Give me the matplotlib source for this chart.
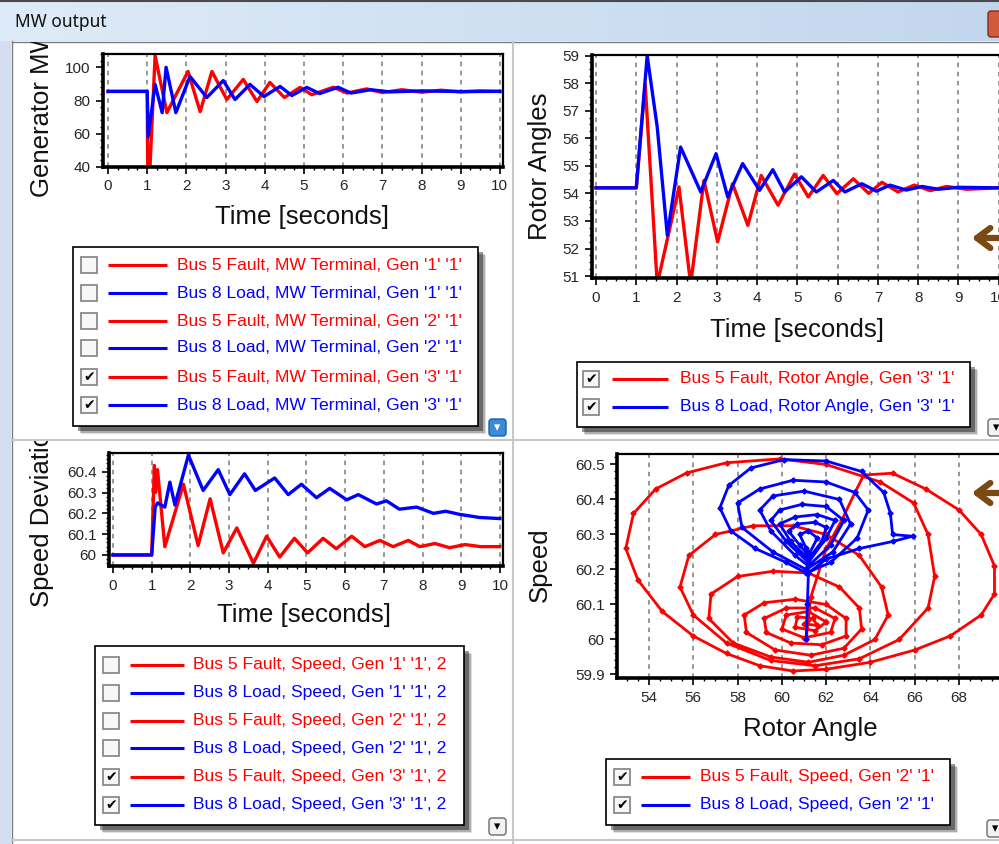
import numpy as np
import matplotlib.pyplot as plt
from matplotlib.patches import Rectangle, FancyBboxPatch
from matplotlib.ticker import MultipleLocator, AutoMinorLocator, FuncFormatter
from matplotlib.transforms import Bbox, TransformedBbox

W, H = 999, 844

# ---- generator MW output (Gen '3')
mw_t_red = [0, 1.0, 1.01, 1.07, 1.2, 1.5, 2.04, 2.35, 2.65, 3.03, 3.45, 3.8, 4.13,
            4.5, 4.9, 5.2, 5.75, 6.1, 6.6, 7.0, 7.5, 8.0, 8.5, 9.0, 9.5, 10]
mw_red = [85.5, 85.5, 40, 40, 107, 72.7, 97.5, 73.3, 97.5, 80.6, 92.7, 79.4, 90.9,
          81.8, 87.9, 83.5, 88, 84.5, 87, 84.8, 86.5, 85, 86.2, 85.2, 85.8, 85.5]
mw_t_blue = [0, 1.0, 1.02, 1.2, 1.38, 1.48, 1.73, 2.09, 2.52, 2.94, 3.24, 3.62, 3.98,
             4.39, 4.69, 5.07, 5.4, 5.87, 6.2, 6.7, 7.2, 8, 9, 10]
mw_blue = [85.5, 85.5, 58, 89.7, 72.7, 100, 72.7, 94.5, 81.8, 92, 80.6, 89.7, 82.4,
           88.5, 83, 87.9, 84.2, 88, 84.5, 86.5, 85.2, 85.8, 85.4, 85.5]

# ---- rotor angles (Gen '3')
ra_t_red = [0, 1.0, 1.22, 1.52, 2.06, 2.35, 2.68, 3.02, 3.39, 3.77, 4.1, 4.52, 4.93,
            5.27, 5.64, 5.98, 6.39, 6.77, 7.1, 7.5, 7.9, 8.3, 8.7, 9.2, 10]
ra_red = [54.2, 54.2, 57.97, 50.7, 54.23, 50.7, 54.47, 52.24, 54.35, 52.84, 54.65, 53.57, 54.7,
          53.87, 54.65, 53.99, 54.53, 54.0, 54.4, 54.05, 54.3, 54.1, 54.25, 54.15, 54.2]
ra_t_blue = [0, 1.0, 1.27, 1.52, 1.77, 2.1, 2.6, 2.98, 3.27, 3.64, 4.06, 4.39, 4.68,
             5.1, 5.47, 5.89, 6.18, 6.6, 6.96, 7.3, 7.7, 8.1, 8.5, 9, 10]
ra_blue = [54.2, 54.2, 59.0, 56.4, 52.48, 55.68, 54.05, 55.44, 53.87, 55.08, 54.11, 54.86, 54.05,
           54.6, 54.05, 54.47, 54.05, 54.35, 54.08, 54.3, 54.12, 54.25, 54.15, 54.22, 54.2]

# ---- speed (Gen '3')
sp_t_red = [0, 1.0, 1.07, 1.1, 1.15, 1.34, 1.82, 2.2, 2.51, 2.85, 3.2, 3.63, 3.97, 4.31, 4.69,
            5.03, 5.43, 5.77, 6.17, 6.51, 6.9, 7.24, 7.63, 7.93, 8.32, 8.7, 9.1, 9.5, 10]
sp_red = [60.0, 60.0, 60.43, 60.3, 60.41, 60.04, 60.34, 60.045, 60.27, 60.01, 60.13, 59.96, 60.09,
          59.99, 60.08, 60.01, 60.08, 60.03, 60.09, 60.04, 60.07, 60.04, 60.07, 60.04, 60.055,
          60.035, 60.05, 60.04, 60.04]
sp_t_blue = [0, 1.0, 1.09, 1.15, 1.34, 1.47, 1.6, 1.95, 2.33, 2.72, 3.02, 3.4, 3.68, 4.18, 4.53,
             4.87, 5.26, 5.6, 6.04, 6.34, 6.81, 7.07, 7.4, 7.85, 8.28, 8.6, 8.96, 9.48, 10]
sp_blue = [60.0, 60.0, 60.23, 60.25, 60.23, 60.35, 60.24, 60.48, 60.31, 60.41, 60.29, 60.39, 60.31,
           60.37, 60.29, 60.34, 60.275, 60.32, 60.265, 60.29, 60.245, 60.26, 60.22, 60.23, 60.2,
           60.21, 60.195, 60.18, 60.175]

# ---- speed vs rotor angle (Gen '2')
ph_ang_red = [61.1, 61.3, 62.0, 62.7, 63.3, 63.7, 65.0, 66.5, 68.0, 69.0, 69.6, 69.6, 69.0, 67.6,
              66.0, 64.0, 62.0, 60.5, 59.0, 57.5, 56.0, 54.6, 53.5, 52.95, 53.3, 54.3, 55.7, 57.5,
              59.9, 62.0, 64.45, 65.95, 66.6, 66.9, 66.6, 65.3, 63.5, 61.5, 59.5, 57.5, 56.0, 55.4,
              55.8, 57.0, 58.7, 60.5, 62.0, 63.5, 64.5, 64.8, 64.2, 62.8, 61.2, 59.5, 57.8, 56.7,
              56.8, 58.0, 59.6, 61.2, 62.6, 63.5, 63.6, 62.8, 61.3, 59.7, 58.4, 58.3, 59.2, 60.6,
              62.0, 62.9, 62.9, 61.8, 60.4, 59.3, 59.2, 60.2, 61.5, 62.4, 62.2, 61.0, 60.0, 60.2,
              61.2, 62.0, 61.5, 60.6, 60.7, 61.4, 61.6, 61.0, 61.2]
ph_spd_red = [60.0, 60.12, 60.26, 60.34, 60.42, 60.47, 60.475, 60.43, 60.37, 60.30, 60.21, 60.13,
              60.07, 60.01, 59.97, 59.935, 59.915, 59.91, 59.925, 59.96, 60.01, 60.08, 60.17,
              60.26, 60.36, 60.43, 60.476, 60.505, 60.516, 60.5, 60.45, 60.39, 60.3, 60.18,
              60.09, 60.0, 59.945, 59.925, 59.94, 59.99, 60.07, 60.15, 60.24, 60.3, 60.325,
              60.325, 60.3, 60.24, 60.15, 60.07, 60.0, 59.955, 59.935, 59.95, 59.99, 60.06,
              60.13, 60.18, 60.195, 60.19, 60.15, 60.09, 60.03, 59.975, 59.955, 59.97, 60.02,
              60.07, 60.105, 60.115, 60.1, 60.06, 60.01, 59.985, 59.99, 60.02, 60.06, 60.09,
              60.09, 60.06, 60.02, 60.005, 60.03, 60.07, 60.08, 60.05, 60.025, 60.035, 60.065,
              60.06, 60.04, 60.045, 60.055]
ph_ang_blue = [61.1, 61.15, 61.2, 62.0, 63.5, 65.0, 65.9, 65.0, 64.9, 64.6, 63.6, 62.0, 60.1, 58.6,
               57.6, 57.2, 57.7, 58.8, 60.2, 61.1, 62.2, 63.4, 63.9, 63.3, 62.0, 60.5, 59.0, 58.0,
               58.2, 59.6, 61.1, 62.3, 63.1, 62.6, 61.0, 59.6, 59.0, 59.5, 60.6, 61.2, 62.2, 62.8,
               62.0, 60.9, 59.9, 59.5, 60.2, 61.2, 62.0, 62.4, 61.6, 60.6, 59.9, 60.4, 61.2, 61.8,
               62.0, 61.5, 60.7, 60.3, 60.8, 61.2, 61.6, 61.2, 60.8, 61.1, 61.2]
ph_spd_blue = [60.0, 60.1, 60.19, 60.23, 60.26, 60.28, 60.295, 60.30, 60.36, 60.42, 60.48, 60.51,
               60.514, 60.49, 60.44, 60.376, 60.31, 60.26, 60.22, 60.19, 60.22, 60.29, 60.37,
               60.42, 60.45, 60.455, 60.43, 60.39, 60.32, 60.25, 60.2, 60.25, 60.33, 60.40,
               60.424, 60.41, 60.37, 60.31, 60.24, 60.21, 60.27, 60.34, 60.38, 60.386, 60.37,
               60.34, 60.28, 60.22, 60.29, 60.34, 60.357, 60.35, 60.33, 60.28, 60.23, 60.28,
               60.32, 60.335, 60.33, 60.31, 60.27, 60.24, 60.29, 60.31, 60.3, 60.26, 60.25]
ph_xticks = [54, 56, 58, 60, 62, 64, 66, 68]

# ---- legend entries
mw_labels = ["Bus 5 Fault, MW Terminal, Gen '1' '1'", "Bus 8 Load, MW Terminal, Gen '1' '1'",
             "Bus 5 Fault, MW Terminal, Gen '2' '1'", "Bus 8 Load, MW Terminal, Gen '2' '1'",
             "Bus 5 Fault, MW Terminal, Gen '3' '1'", "Bus 8 Load, MW Terminal, Gen '3' '1'"]
ra_labels = ["Bus 5 Fault, Rotor Angle, Gen '3' '1'", "Bus 8 Load, Rotor Angle, Gen '3' '1'"]
sp_labels = ["Bus 5 Fault, Speed, Gen '1' '1', 2", "Bus 8 Load, Speed, Gen '1' '1', 2",
             "Bus 5 Fault, Speed, Gen '2' '1', 2", "Bus 8 Load, Speed, Gen '2' '1', 2",
             "Bus 5 Fault, Speed, Gen '3' '1', 2", "Bus 8 Load, Speed, Gen '3' '1', 2"]
ph_labels = ["Bus 5 Fault, Speed, Gen '2' '1'", "Bus 8 Load, Speed, Gen '2' '1'"]
six_checked = [False, False, False, False, True, True]

RED = '#ff0000'
BLUE = '#0000ff'
six_colors = [RED, BLUE] * 3

plt.rcParams['font.family'] = ['Liberation Sans', 'DejaVu Sans']

fig = plt.figure(figsize=(W / 100, H / 100), dpi=100)
fig.patch.set_facecolor('white')


def px_rect(x0, y0, x1, y1):
    return [x0 / W, 1 - y1 / H, (x1 - x0) / W, (y1 - y0) / H]


bg = fig.add_axes([0, 0, 1, 1], zorder=0)
bg.axis('off')

# window chrome
grad = np.linspace(0, 1, 200)[None, :, None]
c0 = np.array([0.87, 0.92, 0.97])
c1 = np.array([0.76, 0.84, 0.93])
bg.imshow(c0 + (c1 - c0) * grad, extent=(0, W, 41, 1), aspect='auto', zorder=0)
bg.plot([0, W], [1, 1], color='#4a4a4a', lw=1.5)
bg.add_patch(Rectangle((0, 41), 11, H - 41, fc='#d3dff0', lw=0))
bg.plot([11.5, 11.5], [41, H], color='#7d7d7d', lw=1)
bg.plot([11.5, W], [41.5, 41.5], color='#7d7d7d', lw=1)
bg.plot([513, 513], [42, H], color='#c8c8c8', lw=1.5)
bg.plot([12, W], [440, 440], color='#c8c8c8', lw=1.5)
bg.plot([12, W], [840, 840], color='#c8c8c8', lw=1.5)
bg.text(15, 22, 'MW output', fontsize=12.5, va='center', ha='left', color='#111111',
        family=['Noto Sans', 'DejaVu Sans'])
bg.add_patch(FancyBboxPatch((988, 11), 16, 26, boxstyle='round,pad=0,rounding_size=3',
                            fc='#cf5a3c', ec='#8a2a1a', lw=1))


def clipped_label(x, y, text, panel, **kw):
    t = bg.text(x, y, text, fontsize=18.5, color='#111111', clip_on=True, **kw)
    x0, y0, x1, y1 = panel
    t.set_clip_box(TransformedBbox(Bbox.from_extents(x0 / W, 1 - y1 / H, x1 / W, 1 - y0 / H),
                                   fig.transFigure))
    return t


fmt = FuncFormatter(lambda v, p: f'{round(v, 3):g}')


def style_axes(ax, xmaj, ymaj, xminor=4, yminor=5):
    ax.set_facecolor('white')
    for s in ax.spines.values():
        s.set_linewidth(1.6)
    ax.spines['left'].set_linewidth(2.6)
    ax.spines['bottom'].set_linewidth(2.6)
    ax.xaxis.set_major_locator(MultipleLocator(xmaj))
    ax.yaxis.set_major_locator(MultipleLocator(ymaj))
    ax.xaxis.set_minor_locator(AutoMinorLocator(xminor))
    ax.yaxis.set_minor_locator(AutoMinorLocator(yminor))
    ax.xaxis.set_major_formatter(fmt)
    ax.yaxis.set_major_formatter(fmt)
    ax.tick_params(which='major', direction='out', length=5, width=1.2,
                   labelsize=11, labelcolor='#262626', pad=4)
    ax.tick_params(which='minor', direction='out', length=2.5, width=1)
    ax.grid(True, axis='x', which='major', color='#7a7a7a', linestyle=(0, (3, 3)), lw=1.1)
    ax.set_axisbelow(True)


# top-left: generator MW
ax1 = fig.add_axes(px_rect(103, 54, 503, 167), zorder=1)
ax1.plot(mw_t_red, mw_red, color=RED, lw=2.4)
ax1.plot(mw_t_blue, mw_blue, color=BLUE, lw=2.4)
ax1.set_xlim(-0.13, 10.08)
ax1.set_ylim(40, 108)
style_axes(ax1, 1, 20)
bg.text(302, 217, 'Time [seconds]', fontsize=18.5, ha='center', va='center', color='#111111')
clipped_label(42, 197, 'Generator MW', (12, 42, 513, 440), rotation=90,
              rotation_mode='anchor', ha='left', va='center')

# top-right: rotor angles
ax2 = fig.add_axes(px_rect(592, 55, 1004, 278), zorder=1)
ax2.plot(ra_t_red, ra_red, color=RED, lw=2.4)
ax2.plot(ra_t_blue, ra_blue, color=BLUE, lw=2.4)
ax2.set_xlim(-0.1, 10.13)
ax2.set_ylim(50.93, 59.02)
style_axes(ax2, 1, 1, yminor=4)
bg.text(797, 330, 'Time [seconds]', fontsize=18.5, ha='center', va='center', color='#111111')
clipped_label(540, 166, 'Rotor Angles', (514, 42, W, 440), rotation=90,
              ha='center', va='center')

# bottom-left: speed deviation
ax3 = fig.add_axes(px_rect(109, 453, 503, 566), zorder=1)
ax3.plot(sp_t_red, sp_red, color=RED, lw=2.4)
ax3.plot(sp_t_blue, sp_blue, color=BLUE, lw=2.4)
ax3.set_xlim(-0.103, 10.08)
ax3.set_ylim(59.947, 60.49)
style_axes(ax3, 1, 0.1)
bg.text(304, 615, 'Time [seconds]', fontsize=18.5, ha='center', va='center', color='#111111')
clipped_label(42, 607, 'Speed Deviation', (12, 441, 513, 840), rotation=90,
              rotation_mode='anchor', ha='left', va='center')

# bottom-right: speed vs rotor angle
ax4 = fig.add_axes(px_rect(617, 454, 1004, 678), zorder=1)
ax4.plot(ph_ang_red, ph_spd_red, color=RED, lw=2.0, marker='D', ms=2.6)
ax4.plot(ph_ang_blue, ph_spd_blue, color=BLUE, lw=2.0, marker='D', ms=2.6)
ax4.set_xlim(52.555, 70.03)
ax4.set_ylim(59.89, 60.53)
style_axes(ax4, 2, 0.1)
ax4.set_xticks(ph_xticks)
ax4.xaxis.set_minor_locator(MultipleLocator(0.5))
bg.text(810, 729, 'Rotor Angle', fontsize=18.5, ha='center', va='center', color='#111111')
clipped_label(540, 565, 'Speed', (514, 441, W, 840), rotation=90, ha='center', va='center')


def draw_legend(box, xs, rows, labels, colors, checked):
    x0, y0, x1, y1 = box
    for off, a in [(8, 0.12), (6.5, 0.22), (5, 0.4)]:
        bg.add_patch(Rectangle((x0 + off, y0 + off), x1 - x0, y1 - y0, fc='black',
                               alpha=a, lw=0))
    bg.add_patch(Rectangle((x0, y0), x1 - x0, y1 - y0, fc='white', ec='black', lw=1.2))
    cx, lx0, lx1, tx = xs
    for y, lab, col, chk in zip(rows, labels, colors, checked):
        bg.add_patch(Rectangle((cx, y - 8), 16, 16, fc='#f7f7f7', ec='#8a8a8a', lw=1.3))
        if chk:
            bg.text(cx + 8, y + 0.5, '\u2714', fontsize=10, ha='center', va='center',
                    color='black', family='DejaVu Sans')
        bg.plot([lx0, lx1], [y, y], color=col, lw=2.2, solid_capstyle='butt')
        bg.text(tx, y, lab, color=col, fontsize=12.6, ha='left', va='center')


def dropdown(x, y, blue=False):
    if blue:
        bg.add_patch(FancyBboxPatch((x, y), 17, 17, boxstyle='round,pad=0,rounding_size=3',
                                    fc='#3d8ad6', ec='#1d5fa8', lw=1))
        c = 'white'
    else:
        bg.add_patch(FancyBboxPatch((x, y), 17, 17, boxstyle='round,pad=0,rounding_size=3',
                                    fc='#f2f2f2', ec='#6a6a6a', lw=1))
        c = 'black'
    bg.text(x + 8.5, y + 9, '\u25be', fontsize=9, ha='center', va='center', color=c,
            family='DejaVu Sans')


draw_legend((73, 247, 478, 426), (81, 108, 167, 177),
            [265, 293, 321, 348, 377, 405], mw_labels, six_colors, six_checked)
draw_legend((577, 362, 970, 427), (583, 612, 668, 680),
            [379, 407], ra_labels, [RED, BLUE], [True, True])
draw_legend((95, 646, 464, 825), (103, 130, 184, 193),
            [665, 693, 721, 748, 777, 805], sp_labels, six_colors, six_checked)
draw_legend((606, 759, 950, 825), (614, 641, 690, 700),
            [777, 805], ph_labels, [RED, BLUE], [True, True])

dropdown(489, 419, blue=True)
dropdown(988, 419)
dropdown(489, 818)
dropdown(987, 820)

bg.set_xlim(0, W)
bg.set_ylim(H, 0)

# brown arrows at the right edge
top = fig.add_axes([0, 0, 1, 1], zorder=3)
top.axis('off')
top.patch.set_alpha(0)
for ya in [238, 493]:
    top.annotate('', xy=(969, ya), xytext=(1010, ya),
                 arrowprops=dict(arrowstyle='->,head_length=0.6,head_width=0.45',
                                 lw=4.5, color='#7a4a12', mutation_scale=16))
top.set_xlim(0, W)
top.set_ylim(H, 0)

fig.savefig('out.png', dpi=100)
